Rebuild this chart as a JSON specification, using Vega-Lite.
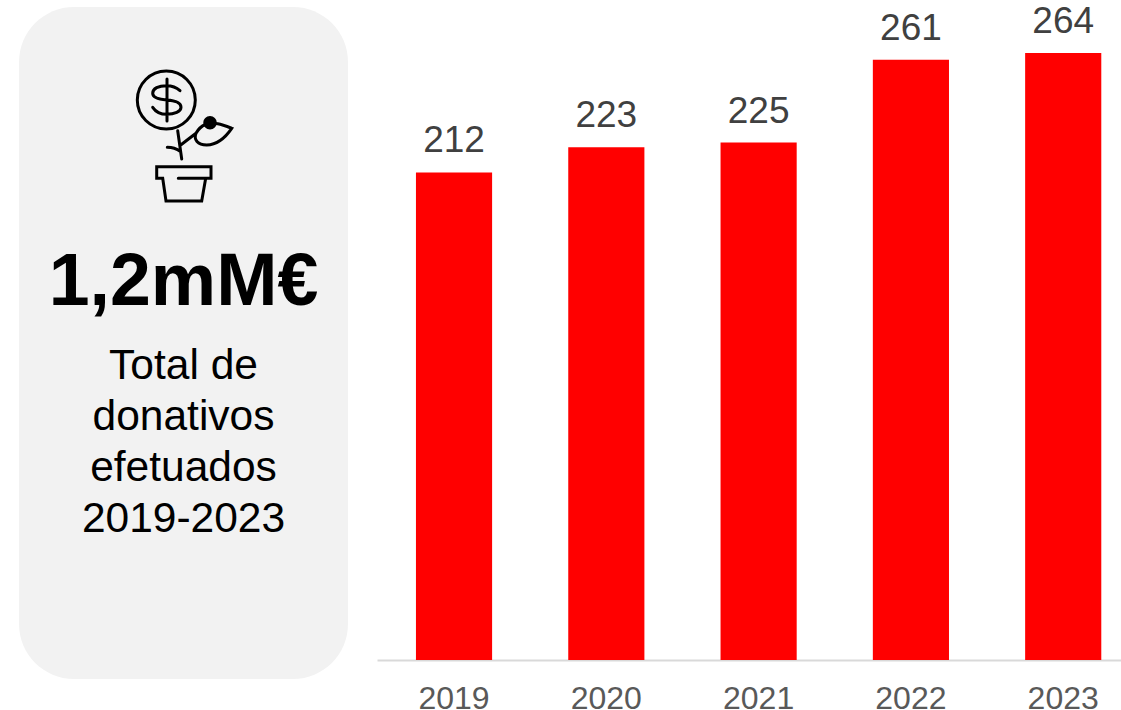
{"$schema":"https://vega.github.io/schema/vega-lite/v6.json","width":1121,"height":710,"padding":0,"autosize":{"type":"none"},"background":"white","config":{"view":{"stroke":null},"font":"Liberation Sans"},
"datasets":{"bars":[{"ano":"2019","valor":212},{"ano":"2020","valor":223},{"ano":"2021","valor":225},{"ano":"2022","valor":261},{"ano":"2023","valor":264}],
"painel":[{"painel":"Total"}],"linhas":[{"painel":"Total","linha":"Total de"},{"painel":"Total","linha":"donativos"},{"painel":"Total","linha":"efetuados"},{"painel":"Total","linha":"2019-2023"}],"grande":[{"painel":"Total","texto":"1,2mM€"}],"icone":[{"painel":"Total","item":"icone"}]},
"resolve":{"scale":{"x":"independent","y":"independent"}},
"layer":[
{"data":{"name":"painel"},"mark":{"type":"rect","fill":"#f2f2f2","cornerRadius":55},"encoding":{"x":{"field":"painel","type":"nominal","axis":null,"scale":{"type":"band","padding":0,"range":[19,348]}},"y":{"field":"painel","type":"nominal","axis":null,"scale":{"type":"band","padding":0,"range":[7,679]}}}},
{"data":{"name":"bars"},"mark":{"type":"bar","fill":"#ff0000"},"encoding":{"x":{"field":"ano","type":"nominal","axis":{"orient":"bottom","offset":-50,"title":null,"ticks":false,"labelAngle":0,"labelFont":"Liberation Sans","labelFontSize":32,"labelColor":"#595959","labelPadding":23,"domainColor":"#d9d9d9","domainWidth":2,"grid":false},"scale":{"type":"band","paddingInner":0.5,"paddingOuter":0.1926,"align":0.664,"range":[377,1121]}},"y":{"field":"valor","type":"quantitative","axis":null,"scale":{"domain":[0,287],"range":[660,0],"nice":false}}}},
{"data":{"name":"bars"},"mark":{"type":"text","font":"Liberation Sans","fontSize":37,"fill":"#404040","baseline":"alphabetic","dy":-20},"encoding":{"text":{"field":"valor","type":"quantitative"},"x":{"field":"ano","type":"nominal","axis":null,"scale":{"type":"band","paddingInner":0.5,"paddingOuter":0.1926,"align":0.664,"range":[377,1121]}},"y":{"field":"valor","type":"quantitative","axis":null,"scale":{"domain":[0,287],"range":[660,0],"nice":false}}}},
{"data":{"name":"grande"},"mark":{"type":"text","font":"Liberation Sans","fontWeight":"bold","fontSize":73.5,"fill":"#000000","baseline":"alphabetic"},"encoding":{"text":{"field":"texto","type":"nominal"},"x":{"field":"painel","type":"nominal","axis":null,"scale":{"type":"point","range":[19,348]}},"y":{"field":"texto","type":"nominal","axis":null,"scale":{"type":"point","padding":0,"range":[305,305]}}}},
{"data":{"name":"linhas"},"mark":{"type":"text","font":"Liberation Sans","fontSize":42.5,"fill":"#000000","baseline":"alphabetic"},"encoding":{"text":{"field":"linha","type":"nominal"},"x":{"field":"painel","type":"nominal","axis":null,"scale":{"type":"point","range":[19,348]}},"y":{"field":"linha","type":"nominal","sort":null,"axis":null,"scale":{"type":"point","padding":0,"range":[379,532]}}}},
{"data":{"name":"icone"},"mark":{"type":"point","size":4,"filled":false,"stroke":"#000000","strokeWidth":3,"opacity":1,"strokeCap":"round","shape":"M -46.2 -36.5 A 29 29 0 1 1 11.8 -36.5 A 29 29 0 1 1 -46.2 -36.5 Z M -16.5 -57.5 L -16.5 -15.5 M -3.5 -45.8 C -7 -49 -12 -50.8 -16.8 -50.8 C -25 -50.8 -30.8 -48 -30.8 -43.2 C -30.8 -38.5 -24 -37 -16.8 -36.5 C -9 -36 -2.5 -34 -2.5 -29.2 C -2.5 -25 -9 -22.2 -16.8 -22.2 C -23 -22.2 -28 -25 -30.8 -29.2 M -5.8 -5.8 L -1.8 22.5 M -16.2 10.8 Q -9 10.8 -3 15 M -2.8 8.5 L 12.5 -3.2 M 12.5 -3.2 C 14 -6 17 -10 22 -12 C 30 -15 38 -12 48.2 -8.2 C 44 -2 36 8 23.2 8.5 C 14 8.5 10 3 12.5 -3.2 Z M -5.2 41.8 L 27.5 41.8 L 27.5 30.2 L -26.8 30.2 L -26.8 41.8 L -20.8 41.8 L -17.5 64.5 L 18.2 64.5 L 22.2 41.8"},"encoding":{"x":{"field":"painel","type":"nominal","axis":null,"scale":{"type":"point","range":[19,348]}},"y":{"field":"item","type":"nominal","axis":null,"scale":{"type":"point","padding":0,"range":[136.5,136.5]}}}},
{"data":{"name":"icone"},"mark":{"type":"point","size":4,"filled":true,"fill":"#000000","opacity":1,"strokeWidth":0,"shape":"M 19.8 -13.8 A 6.7 6.7 0 1 1 33.2 -13.8 A 6.7 6.7 0 1 1 19.8 -13.8 Z"},"encoding":{"x":{"field":"painel","type":"nominal","axis":null,"scale":{"type":"point","range":[19,348]}},"y":{"field":"item","type":"nominal","axis":null,"scale":{"type":"point","padding":0,"range":[136.5,136.5]}}}}
]}
